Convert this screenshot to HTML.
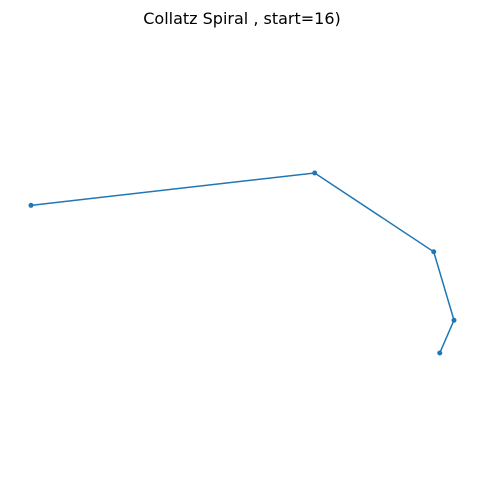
<!DOCTYPE html>
<html><head><meta charset="utf-8"><style>
body{margin:0;background:#fff;}
svg{display:block;font-family:"DejaVu Sans","Liberation Sans",sans-serif;}
</style></head><body>
<svg width="484" height="504" viewBox="0 0 484 504">
<text x="242" y="24" text-anchor="middle" font-size="16" fill="#000">Collatz Spiral , start=16)</text>
<g id="plot"></g>
</svg>
<script>
const sequence = [16, 8, 4, 2, 1];
const startAngleDeg = 6.5;
const turnDeg = -40;

const ns = "http://www.w3.org/2000/svg";
const g = document.getElementById("plot");
const pts = [[0, 0]];
for (let i = 1; i < sequence.length; i++) {
  const a = (startAngleDeg + turnDeg * (i - 1)) * Math.PI / 180;
  const p = pts[pts.length - 1];
  pts.push([p[0] + sequence[i] * Math.cos(a), p[1] + sequence[i] * Math.sin(a)]);
}
const xs = pts.map(p => p[0]), ys = pts.map(p => p[1]);
const xmin = Math.min(...xs), xmax = Math.max(...xs), ymax = Math.max(...ys);
const k = 423 / (xmax - xmin || 1);
const sx = x => 31 + (x - xmin) * k;
const sy = y => 173 + (ymax - y) * k;
const line = document.createElementNS(ns, "polyline");
line.setAttribute("points", pts.map(p => sx(p[0]) + "," + sy(p[1])).join(" "));
line.setAttribute("fill", "none");
line.setAttribute("stroke", "#1f77b4");
line.setAttribute("stroke-width", "1.5");


g.appendChild(line);
pts.forEach((p, i) => {
  const c = document.createElementNS(ns, "circle");
  c.setAttribute("cx", sx(p[0]));
  c.setAttribute("cy", sy(p[1]));
  c.setAttribute("r", "2.5");
  c.setAttribute("fill", "#1f77b4");
  
  
  g.appendChild(c);
});
</script>
</body></html>
